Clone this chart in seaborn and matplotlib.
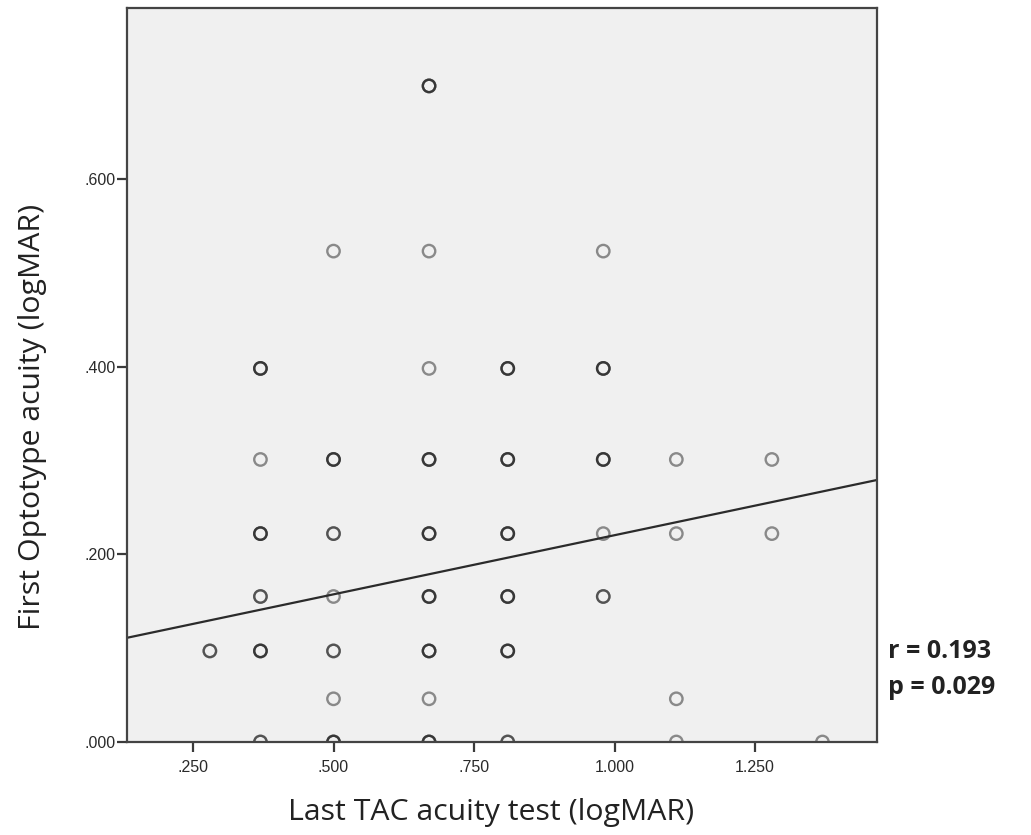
import numpy as np
import pandas as pd
import matplotlib
matplotlib.use("Agg")
import matplotlib.pyplot as plt
import seaborn as sns

# TAC acuity (x) columns and optotype acuity (y) values, with how many
# cases sit on each spot (overlap makes SPSS circles look darker)
tac_x = [0.28,
         0.37, 0.37, 0.37, 0.37, 0.37, 0.37,
         0.50, 0.50, 0.50, 0.50, 0.50, 0.50, 0.50,
         0.67, 0.67, 0.67, 0.67, 0.67, 0.67, 0.67, 0.67, 0.67,
         0.81, 0.81, 0.81, 0.81, 0.81, 0.81,
         0.98, 0.98, 0.98, 0.98, 0.98,
         1.11, 1.11, 1.11, 1.11,
         1.28, 1.28,
         1.37]
opt_y = [0.097,
         0.398, 0.301, 0.222, 0.155, 0.097, 0.000,
         0.523, 0.301, 0.222, 0.155, 0.097, 0.046, 0.000,
         0.699, 0.523, 0.398, 0.301, 0.222, 0.155, 0.097, 0.046, 0.000,
         0.398, 0.301, 0.222, 0.155, 0.097, 0.000,
         0.523, 0.398, 0.301, 0.222, 0.155,
         0.301, 0.222, 0.046, 0.000,
         0.301, 0.222,
         0.000]
n_cases = [2,
           3, 1, 3, 2, 3, 2,
           1, 3, 2, 1, 2, 1, 3,
           3, 1, 1, 3, 3, 3, 3, 1, 3,
           3, 3, 3, 3, 3, 2,
           1, 3, 3, 1, 2,
           1, 1, 1, 1,
           1, 1,
           1]

# fit line
fit_intercept = 0.0943
fit_slope = 0.126

x_ticks = [0.25, 0.50, 0.75, 1.00, 1.25]
x_tick_labels = [".250", ".500", ".750", "1.000", "1.250"]
y_ticks = [0.0, 0.2, 0.4, 0.6]
y_tick_labels = [".000", ".200", ".400", ".600"]

r_text = "r = 0.193"
p_text = "p = 0.029"

df = pd.DataFrame({
    "tac": np.repeat(tac_x, n_cases),
    "opt": np.repeat(opt_y, n_cases),
})

sns.set_style("white", {"xtick.bottom": True, "ytick.left": True})
plt.rcParams["font.family"] = ["Liberation Sans", "DejaVu Sans"]

fig = plt.figure(figsize=(10.31, 8.35), dpi=100)
ax = fig.add_axes([0.1232, 0.1114, 0.7274, 0.8790])
ax.set_facecolor("#f0f0f0")

xlim = (0.1326, 1.467)
ylim = (0.0, 0.782)
ax.set_xlim(xlim)
ax.set_ylim(ylim)

sns.scatterplot(data=df, x="tac", y="opt", ax=ax, s=80, marker="o",
                facecolors="none", edgecolor=(0.1, 0.1, 0.1, 0.48),
                linewidth=1.7, legend=False)

line_x = np.array(xlim)
line_df = pd.DataFrame({"x": line_x, "y": fit_intercept + fit_slope * line_x})
sns.lineplot(data=line_df, x="x", y="y", ax=ax, color="#2b2b2b", linewidth=1.6)

ax.set_xticks(x_ticks)
ax.set_xticklabels(x_tick_labels)
ax.set_yticks(y_ticks)
ax.set_yticklabels(y_tick_labels)
ax.tick_params(axis="both", direction="out", length=7, width=1.6,
               color="#3a3a3a", labelsize=11.5, labelcolor="#2a2a2a", pad=1)
ax.tick_params(axis="x", pad=6)

for sp in ax.spines.values():
    sp.set_color("#444444")
    sp.set_linewidth(1.6)

ax.set_xlabel("Last TAC acuity test (logMAR)", family="Open Sans",
              fontsize=21.8, color="#222222")
ax.set_ylabel("First Optotype acuity (logMAR)", family="Open Sans",
              fontsize=21.8, color="#222222")
ax.xaxis.set_label_coords(0.485, -0.077)
ax.yaxis.set_label_coords(-0.107, 0.443)

fig.text(888 / 1031, 1 - 652 / 835, r_text, family="Open Sans",
         fontweight="bold", fontsize=18, color="#222222", va="center")
fig.text(888 / 1031, 1 - 687 / 835, p_text, family="Open Sans",
         fontweight="bold", fontsize=18, color="#222222", va="center")

fig.savefig("out.png", dpi=100, facecolor="white")
